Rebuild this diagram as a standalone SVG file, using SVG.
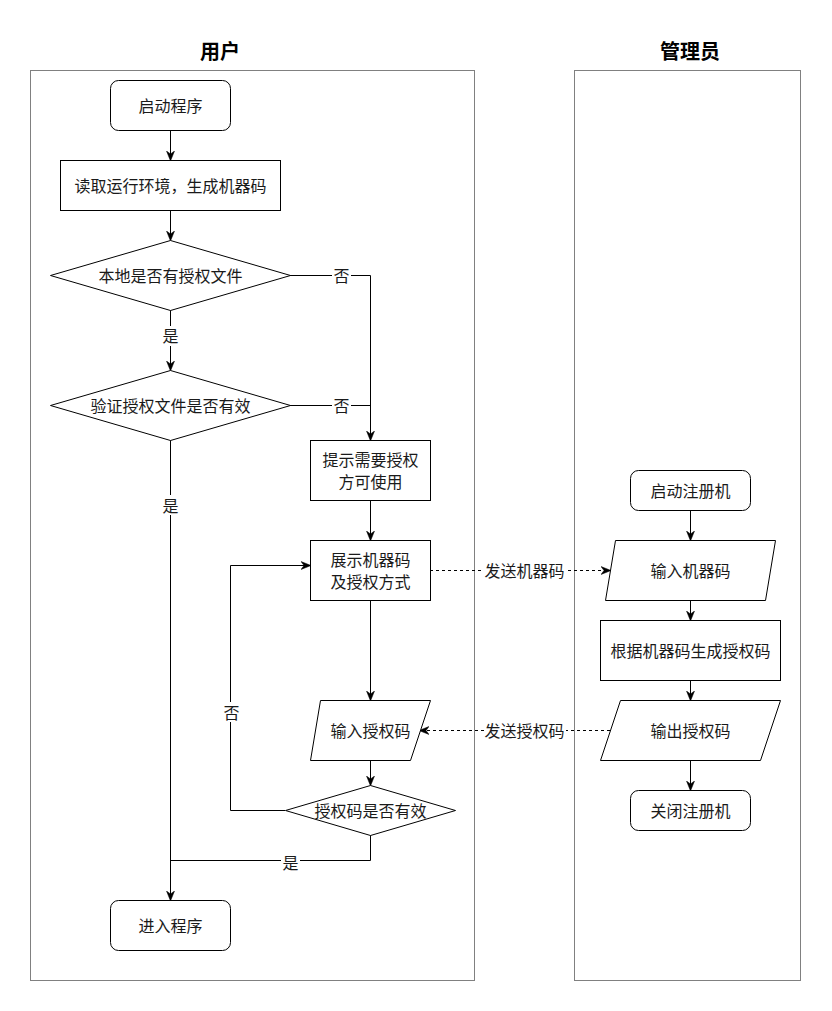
<svg xmlns="http://www.w3.org/2000/svg" width="832" height="1011" viewBox="0 0 832 1011">
<defs>
<style>
.lane{fill:#fff;stroke:#808080;stroke-width:1}
.title{font-family:"Noto Sans CJK SC","Liberation Sans",sans-serif;font-size:20px;font-weight:bold;fill:#000;text-anchor:middle;dominant-baseline:central}
.node{fill:#fff;stroke:#000;stroke-width:1}
.t{font-family:"Noto Sans CJK SC","Liberation Sans",sans-serif;font-size:16px;fill:#1a1a1a;text-anchor:middle;dominant-baseline:central}
.e{fill:none;stroke:#000;stroke-width:1}
.d{fill:none;stroke:#000;stroke-width:1;stroke-dasharray:3 3}
.lb{fill:#fff}
</style>
<marker id="arr" viewBox="0 0 10 10" refX="9" refY="5" markerWidth="10" markerHeight="10" markerUnits="userSpaceOnUse" orient="auto">
<path d="M0,1 L10,5 L0,9 L3,5 z" fill="#000" stroke="#000" stroke-width="0.5"/>
</marker>
</defs>
<rect width="832" height="1011" fill="#fff"/>
<g id="lane-user">
<rect class="lane" x="30.5" y="70.5" width="444" height="910"/>
<text class="title" x="220" y="50">用户</text>
</g>
<g id="lane-admin">
<rect class="lane" x="574.5" y="70.5" width="226" height="910"/>
<text class="title" x="690" y="50">管理员</text>
</g>
<g id="connectors">
<line class="e" x1="170.5" y1="130" x2="170.5" y2="160" marker-end="url(#arr)"/>
<line class="e" x1="170.5" y1="210" x2="170.5" y2="240" marker-end="url(#arr)"/>
<line class="e" x1="170.5" y1="310" x2="170.5" y2="370" marker-end="url(#arr)"/>
<polyline class="e" points="290,275.5 370.5,275.5 370.5,440" marker-end="url(#arr)"/>
<polyline class="e" points="290,405.5 370.5,405.5"/>
<line class="e" x1="170.5" y1="440" x2="170.5" y2="900" marker-end="url(#arr)"/>
<line class="e" x1="370.5" y1="500" x2="370.5" y2="540" marker-end="url(#arr)"/>
<line class="e" x1="370.5" y1="600" x2="370.5" y2="700" marker-end="url(#arr)"/>
<line class="e" x1="370.5" y1="760" x2="370.5" y2="785" marker-end="url(#arr)"/>
<polyline class="e" points="285,810.5 230.5,810.5 230.5,565.5 310,565.5" marker-end="url(#arr)"/>
<polyline class="e" points="370.5,835 370.5,860.5 170.5,860.5"/>
<line class="d" x1="430" y1="570.5" x2="610" y2="570.5" marker-end="url(#arr)"/>
<line class="d" x1="610" y1="730.5" x2="420" y2="730.5" marker-end="url(#arr)"/>
<line class="e" x1="690.5" y1="510" x2="690.5" y2="540" marker-end="url(#arr)"/>
<line class="e" x1="690.5" y1="600" x2="690.5" y2="620" marker-end="url(#arr)"/>
<line class="e" x1="690.5" y1="680" x2="690.5" y2="700" marker-end="url(#arr)"/>
<line class="e" x1="690.5" y1="760" x2="690.5" y2="790" marker-end="url(#arr)"/>
<rect class="lb" x="332" y="266" width="19" height="20"/>
<text class="t" x="341.5" y="275">否</text>
<rect class="lb" x="332" y="396" width="19" height="20"/>
<text class="t" x="341.5" y="405">否</text>
<rect class="lb" x="161" y="326" width="19" height="20"/>
<text class="t" x="170.5" y="335">是</text>
<rect class="lb" x="161" y="495" width="19" height="20"/>
<text class="t" x="170.5" y="505">是</text>
<rect class="lb" x="222" y="702" width="19" height="20"/>
<text class="t" x="231.5" y="712">否</text>
<rect class="lb" x="281" y="852" width="19" height="20"/>
<text class="t" x="290.5" y="862">是</text>
<rect class="lb" x="484" y="560" width="82" height="20"/>
<text class="t" x="524.5" y="570">发送机器码</text>
<rect class="lb" x="484" y="720" width="82" height="20"/>
<text class="t" x="524.5" y="730">发送授权码</text>
</g>
<g id="n-start">
<rect class="node" x="110.5" y="80.5" width="120" height="50" rx="8"/>
<text class="t" x="170.5" y="105">启动程序</text>
</g>
<g id="n-read">
<rect class="node" x="60.5" y="160.5" width="220" height="50"/>
<text class="t" x="170.5" y="185">读取运行环境，生成机器码</text>
</g>
<g id="n-local">
<polygon class="node" points="170.5,240.5 290.5,275.5 170.5,310.5 50.5,275.5"/>
<text class="t" x="170.5" y="275">本地是否有授权文件</text>
</g>
<g id="n-verify">
<polygon class="node" points="170.5,370.5 290.5,405.5 170.5,440.5 50.5,405.5"/>
<text class="t" x="170.5" y="405">验证授权文件是否有效</text>
</g>
<g id="n-tip">
<rect class="node" x="310.5" y="440.5" width="120" height="60"/>
<text class="t" x="370.5" y="459">提示需要授权</text>
<text class="t" x="370.5" y="481">方可使用</text>
</g>
<g id="n-show">
<rect class="node" x="310.5" y="540.5" width="120" height="60"/>
<text class="t" x="370.5" y="559">展示机器码</text>
<text class="t" x="370.5" y="581">及授权方式</text>
</g>
<g id="n-inputcode">
<polygon class="node" points="320.5,700.5 430.5,700.5 410.5,760.5 310.5,760.5"/>
<text class="t" x="370.5" y="730">输入授权码</text>
</g>
<g id="n-check">
<polygon class="node" points="370.5,785.5 455.5,810.5 370.5,835.5 285.5,810.5"/>
<text class="t" x="370.5" y="810">授权码是否有效</text>
</g>
<g id="n-enter">
<rect class="node" x="110.5" y="900.5" width="120" height="50" rx="8"/>
<text class="t" x="170.5" y="925">进入程序</text>
</g>
<g id="n-keygen-start">
<rect class="node" x="630.5" y="470.5" width="120" height="40" rx="8"/>
<text class="t" x="690.5" y="490">启动注册机</text>
</g>
<g id="n-inputmc">
<polygon class="node" points="615.5,540.5 775.5,540.5 765.5,600.5 605.5,600.5"/>
<text class="t" x="690.5" y="570">输入机器码</text>
</g>
<g id="n-gen">
<rect class="node" x="600.5" y="620.5" width="180" height="60"/>
<text class="t" x="690.5" y="650">根据机器码生成授权码</text>
</g>
<g id="n-output">
<polygon class="node" points="620.5,700.5 780.5,700.5 760.5,760.5 600.5,760.5"/>
<text class="t" x="690.5" y="730">输出授权码</text>
</g>
<g id="n-close">
<rect class="node" x="630.5" y="790.5" width="120" height="40" rx="8"/>
<text class="t" x="690.5" y="810">关闭注册机</text>
</g>
</svg>
